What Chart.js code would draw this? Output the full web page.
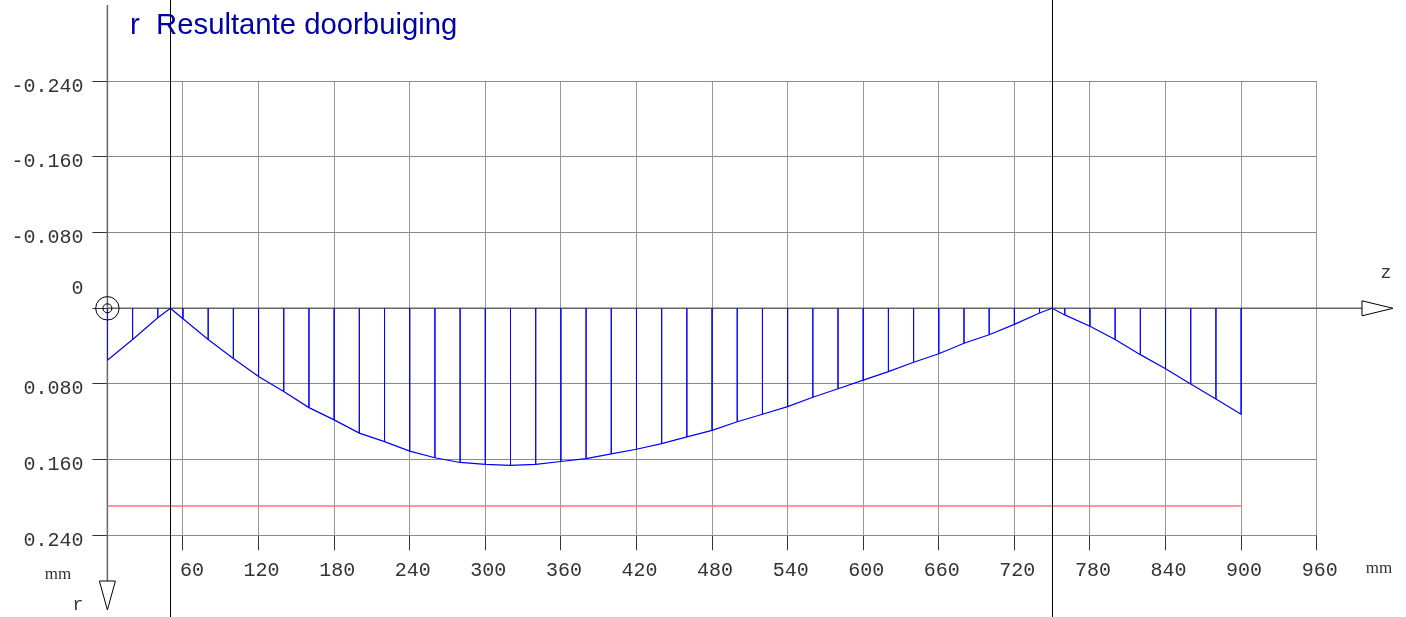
<!DOCTYPE html>
<html><head><meta charset="utf-8">
<script src="https://cdn.jsdelivr.net/npm/chart.js@4/dist/chart.umd.min.js"></script>
<style>html,body{margin:0;padding:0;background:#fff;} canvas{display:block;}</style>
</head><body>
<canvas id="c" width="1406" height="617"></canvas>
<script>
// ---- data (z in mm, r in mm) ----
const stations = [0,20,40,50,60,80,100,120,140,160,180,200,220,240,260,280,300,320,340,360,380,400,420,440,460,480,500,520,540,560,580,600,620,640,660,680,700,720,740,750,760,780,800,820,840,860,880,900];
const deflection = [0.055,0.033,0.010,0,0.011,0.033,0.053,0.072,0.088,0.105,0.118,0.132,0.141,0.151,0.158,0.163,0.165,0.166,0.165,0.162,0.159,0.154,0.149,0.143,0.136,0.129,0.120,0.112,0.104,0.094,0.085,0.076,0.067,0.057,0.048,0.037,0.028,0.017,0.005,0,0.007,0.019,0.033,0.049,0.064,0.080,0.096,0.112];
const supports = [50, 750];
const limitValue = 0.209;
const beamLength = 900;
const titleText = 'r  Resultante doorbuiging';
const xUnit = 'mm', yUnit = 'mm', xAxisName = 'z', yAxisName = 'r';

const curveData = stations.map((z, i) => ({x: z, y: deflection[i]}));
const hatchData = [];
stations.forEach((z, i) => { hatchData.push({x: z, y: 0}, {x: z, y: deflection[i]}, {x: z, y: null}); });
const limitData = [{x: 0, y: limitValue}, {x: beamLength, y: limitValue}];

const deco = {
  id: 'deco',
  beforeDatasetsDraw(chart) {
    const {ctx, scales: {x, y}} = chart;
    const x0 = x.getPixelForValue(0), y0 = y.getPixelForValue(0);
    ctx.save();
    ctx.strokeStyle = '#666'; ctx.lineWidth = 1.5;
    ctx.beginPath(); ctx.moveTo(x0, y0); ctx.lineTo(1362, y0); ctx.stroke();
    ctx.beginPath(); ctx.moveTo(x0, 5); ctx.lineTo(x0, 581); ctx.stroke();
    ctx.restore();
  },
  afterDatasetsDraw(chart) {
    const {ctx, scales: {x, y}} = chart;
    const x0 = x.getPixelForValue(0), y0 = y.getPixelForValue(0);
    ctx.save();
    // supports
    ctx.strokeStyle = '#000'; ctx.lineWidth = 1;
    supports.forEach(s => {
      const px = Math.round(x.getPixelForValue(s)) + 0.5;
      ctx.beginPath(); ctx.moveTo(px, 0); ctx.lineTo(px, 617); ctx.stroke();
    });
    // z arrow
    ctx.fillStyle = '#fff';
    ctx.beginPath(); ctx.moveTo(1362, y0 - 7.5); ctx.lineTo(1393, y0); ctx.lineTo(1362, y0 + 7.5); ctx.closePath(); ctx.fill(); ctx.stroke();
    // r arrow
    ctx.beginPath(); ctx.moveTo(x0 - 8, 581); ctx.lineTo(x0 + 8, 581); ctx.lineTo(x0, 610); ctx.closePath(); ctx.fill(); ctx.stroke();
    // origin symbol
    ctx.beginPath(); ctx.arc(x0, y0, 11.7, 0, Math.PI * 2); ctx.stroke();
    ctx.beginPath(); ctx.arc(x0, y0, 4.5, 0, Math.PI * 2); ctx.stroke();
    // texts
    ctx.fillStyle = '#0000aa';
    ctx.font = '29.3px "Liberation Sans"';
    ctx.textBaseline = 'alphabetic'; ctx.textAlign = 'left';
    ctx.fillText(titleText, 130, 33.5);
    ctx.fillStyle = '#333';
    ctx.font = '17px "Liberation Serif"';
    ctx.textAlign = 'center'; ctx.textBaseline = 'middle';
    ctx.fillText(yUnit, 58, 575);
    ctx.fillText(xUnit, 1379, 569);
    ctx.font = '18px "Liberation Mono"';
    ctx.fillText(yAxisName, 78, 605);
    ctx.fillText(xAxisName, 1386, 273);
    ctx.restore();
  }
};

const monoTick = {family: 'Liberation Mono', size: 20};

new Chart(document.getElementById('c'), {
  type: 'line',
  data: {
    datasets: [
      {data: hatchData, borderColor: 'rgba(0,0,255,0.8)', borderWidth: 1, pointRadius: 0, spanGaps: false, tension: 0},
      {data: curveData, borderColor: '#0000ff', borderWidth: 1.2, pointRadius: 0, tension: 0},
      {data: limitData, borderColor: 'rgb(245,120,120)', borderWidth: 1.5, pointRadius: 0}
    ]
  },
  options: {
    responsive: false, animation: false, devicePixelRatio: 1,
    layout: {padding: {top: 81.3, right: 89.3, left: 0, bottom: 0}},
    plugins: {legend: {display: false}, tooltip: {enabled: false}, title: {display: false}},
    scales: {
      x: {
        type: 'linear', min: 0, max: 960,
        afterFit(s) { s.height = 81.7; },
        ticks: {stepSize: 60, align: 'end', labelOffset: 21, padding: 8, maxRotation: 0, minRotation: 0, autoSkip: false,
          font: monoTick, color: '#333', callback: v => v === 0 ? '' : String(v)},
        grid: {color: '#9a9a9a', tickColor: '#333', tickLength: 15, lineWidth: 1},
        border: {display: false}
      },
      y: {
        type: 'linear', reverse: true, min: -0.24, max: 0.24,
        afterFit(s) { s.width = 107.4; },
        ticks: {stepSize: 0.08, padding: 9, labelOffset: 5, color: '#333', autoSkip: false,
          font: ctx => ({family: 'Liberation Mono', size: 20, lineHeight: (ctx.tick && Math.abs(ctx.tick.value) < 1e-9) ? 2.42 : 1.2}),
          callback: v => { const r = Math.round(v * 1000) / 1000; return r === 0 ? ['0', ''] : r.toFixed(3); }},
        grid: {color: '#8a8a8a', tickColor: '#333', tickLength: 15, lineWidth: 1},
        border: {display: false}
      }
    }
  },
  plugins: [deco]
});
</script>
</body></html>
